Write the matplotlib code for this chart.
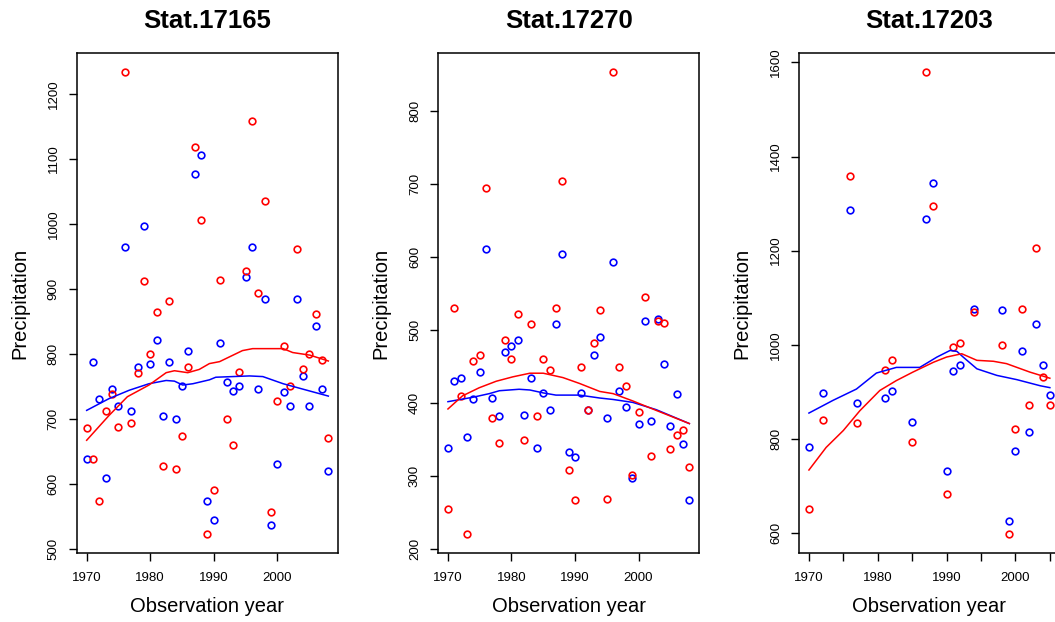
import matplotlib
matplotlib.use("Agg")
import matplotlib.pyplot as plt

plt.rcParams['font.family'] = ['Liberation Sans', 'DejaVu Sans']

# ---------------- data ----------------
titles = ["Stat.17165", "Stat.17270", "Stat.17203"]
xlabel = "Observation year"
ylabel = "Precipitation"

years1 = list(range(1970, 2009))
red1 = [686, 638, 573, 712, 738, 688, 1234, 694, 770, 912,
        800, 864, 628, 882, 623, 673, 780, 1119, 1006, 522,
        591, 914, 699, 659, 772, 927, 1158, 893, 1035, 556,
        727, 812, 750, 961, 777, 800, 861, 790, 670]
blue1 = [638, 788, 730, 609, 746, 720, 964, 712, 780, 996,
         785, 822, 704, 788, 699, 750, 804, 1077, 1106, 573,
         544, 817, 756, 743, 751, 919, 964, 746, 885, 536,
         630, 741, 719, 885, 766, 719, 843, 746, 620]

years2 = list(range(1970, 2009))
red2 = [255, 531, 410, 220, 458, 466, 695, 379, 346, 487,
        461, 522, 349, 508, 382, 461, 445, 531, 704, 309,
        267, 449, 391, 482, 527, 269, 854, 449, 424, 302,
        388, 545, 328, 513, 510, 337, 356, 363, 313]
blue2 = [339, 430, 435, 353, 405, 442, 611, 407, 382, 470,
         478, 487, 384, 435, 339, 414, 391, 508, 604, 333,
         326, 414, 391, 466, 491, 379, 594, 416, 395, 297,
         372, 513, 375, 515, 454, 368, 412, 344, 267]

years3 = [1970, 1972, 1976, 1977, 1981, 1982, 1985, 1987, 1988, 1990, 1991,
          1992, 1994, 1998, 1999, 2000, 2001, 2002, 2003, 2004, 2005]
red3 = [652, 840, 1359, 833, 946, 967, 793, 1580, 1294, 684, 996,
        1003, 1069, 1000, 597, 822, 1077, 873, 1206, 931, 873]
blue3 = [782, 898, 1286, 877, 887, 902, 837, 1268, 1344, 731, 945,
         957, 1077, 1073, 626, 775, 986, 815, 1044, 957, 894]

# smoothed curves
s1_red_x = [1970, 1973.5, 1976.4, 1979.8, 1982.5, 1983.8, 1985.9, 1987.7, 1989.3,
            1990.9, 1994.5, 1996.1, 2000.9, 2002.4, 2005.1, 2008]
s1_red_y = [667, 705, 734, 752, 771, 774, 771, 776, 785, 788, 805, 808, 808, 802, 798, 789]
s1_blue_x = [1970, 1973.5, 1976.7, 1979.8, 1982.5, 1983.8, 1985.1, 1986.7, 1989.3,
             1990.3, 1995.6, 1997.7, 2000.9, 2003.5, 2008]
s1_blue_y = [713, 731, 744, 754, 759, 758, 752, 754, 760, 764, 766, 765, 754, 747, 735]

s2_red_x = [1970, 1972.3, 1974.9, 1977.6, 1980.2, 1982.9, 1985, 1988.1, 1990.7,
            1993.9, 1996, 1999.1, 2002.8, 2008]
s2_red_y = [392, 410, 421, 430, 436, 441, 441, 435, 427, 416, 413, 403, 390, 372]
s2_blue_x = [1970, 1971.3, 1973.9, 1976.5, 1978.1, 1981.2, 1982.9, 1985, 1987,
             1990.7, 1993.9, 1996, 1999.1, 2002.8, 2008]
s2_blue_y = [402, 404, 408, 413, 417, 419, 418, 414, 411, 411, 407, 405, 401, 391, 372]

s3_red_x = [1970, 1972.5, 1975, 1977.4, 1980.3, 1982.7, 1985.1, 1988.1, 1990,
            1992.2, 1994.4, 1996.8, 1998.7, 2002.1, 2005]
s3_red_y = [734, 782, 818, 860, 903, 924, 942, 963, 974, 981, 967, 965, 960, 942, 929]
s3_blue_x = [1970, 1973.5, 1976.9, 1979.8, 1982.7, 1986.1, 1988.6, 1990.5, 1991.5,
             1992.4, 1994.4, 1997.3, 2000.2, 2003.6, 2005]
s3_blue_y = [855, 882, 906, 940, 952, 952, 974, 988, 986, 974, 949, 935, 926, 913, 909]

xticks12 = [1970, 1980, 1990, 2000]
xlabels12 = ["1970", "1980", "1990", "2000"]
xticks3 = [1970, 1975, 1980, 1985, 1990, 1995, 2000, 2005]
xlabels3 = ["1970", "", "1980", "", "1990", "", "2000", ""]
yticks1 = [500, 600, 700, 800, 900, 1000, 1100, 1200]
yticks2 = [200, 300, 400, 500, 600, 700, 800]
yticks3 = [600, 800, 1000, 1200, 1400, 1600]

# ---------------- layout ----------------
W, H = 1055, 622
fig = plt.figure(figsize=(W / 100, H / 100), dpi=100)

panels = [
    dict(left=77, right=338, yrs=years1, red=red1, blue=blue1,
         sr=(s1_red_x, s1_red_y), sb=(s1_blue_x, s1_blue_y),
         xt=xticks12, xl=xlabels12, yt=yticks1, title=titles[0]),
    dict(left=438.3, right=699, yrs=years2, red=red2, blue=blue2,
         sr=(s2_red_x, s2_red_y), sb=(s2_blue_x, s2_blue_y),
         xt=xticks12, xl=xlabels12, yt=yticks2, title=titles[1]),
    dict(left=799.3, right=1059.5, yrs=years3, red=red3, blue=blue3,
         sr=(s3_red_x, s3_red_y), sb=(s3_blue_x, s3_blue_y),
         xt=xticks3, xl=xlabels3, yt=yticks3, title=titles[2]),
]
top_px, bot_px = 53.3, 553

def rrange(vals):
    lo, hi = min(vals), max(vals)
    d = (hi - lo) * 0.04
    return lo - d, hi + d

for p in panels:
    ax = fig.add_axes([p['left'] / W, (H - bot_px) / H,
                       (p['right'] - p['left']) / W, (bot_px - top_px) / H])
    ax.plot(p['yrs'], p['blue'], linestyle='none', marker='o', ms=4.8,
            mfc='none', mec='blue', mew=1.2)
    ax.plot(p['yrs'], p['red'], linestyle='none', marker='o', ms=4.8,
            mfc='none', mec='red', mew=1.2)
    ax.plot(p['sb'][0], p['sb'][1], color='blue', lw=1.1)
    ax.plot(p['sr'][0], p['sr'][1], color='red', lw=1.1)

    ax.set_xlim(*rrange(p['yrs']))
    ax.set_ylim(*rrange(p['red'] + p['blue']))
    ax.set_xticks(p['xt'])
    ax.set_xticklabels(p['xl'])
    ax.set_yticks(p['yt'])
    ax.set_yticklabels([str(v) for v in p['yt']], rotation=90, va='center')
    ax.tick_params(axis='both', direction='out', length=5.5, width=1.0,
                   labelsize=9.5, colors='black')
    ax.tick_params(axis='x', pad=8.5)
    ax.tick_params(axis='y', pad=7)
    for s in ax.spines.values():
        s.set_linewidth(1.1)
        s.set_color('black')

    cx = (p['left'] + p['right']) / 2
    fig.text(cx / W, 1 - 21 / H, p['title'], ha='center', va='center',
             fontsize=18.5, fontweight='bold')
    fig.text(cx / W, 1 - 607 / H, xlabel, ha='center', va='center', fontsize=14.5)
    fig.text((p['left'] - 57) / W, 1 - 303 / H, ylabel, ha='center', va='center',
             rotation=90, fontsize=14.5)

fig.savefig("out.png", dpi=100)
